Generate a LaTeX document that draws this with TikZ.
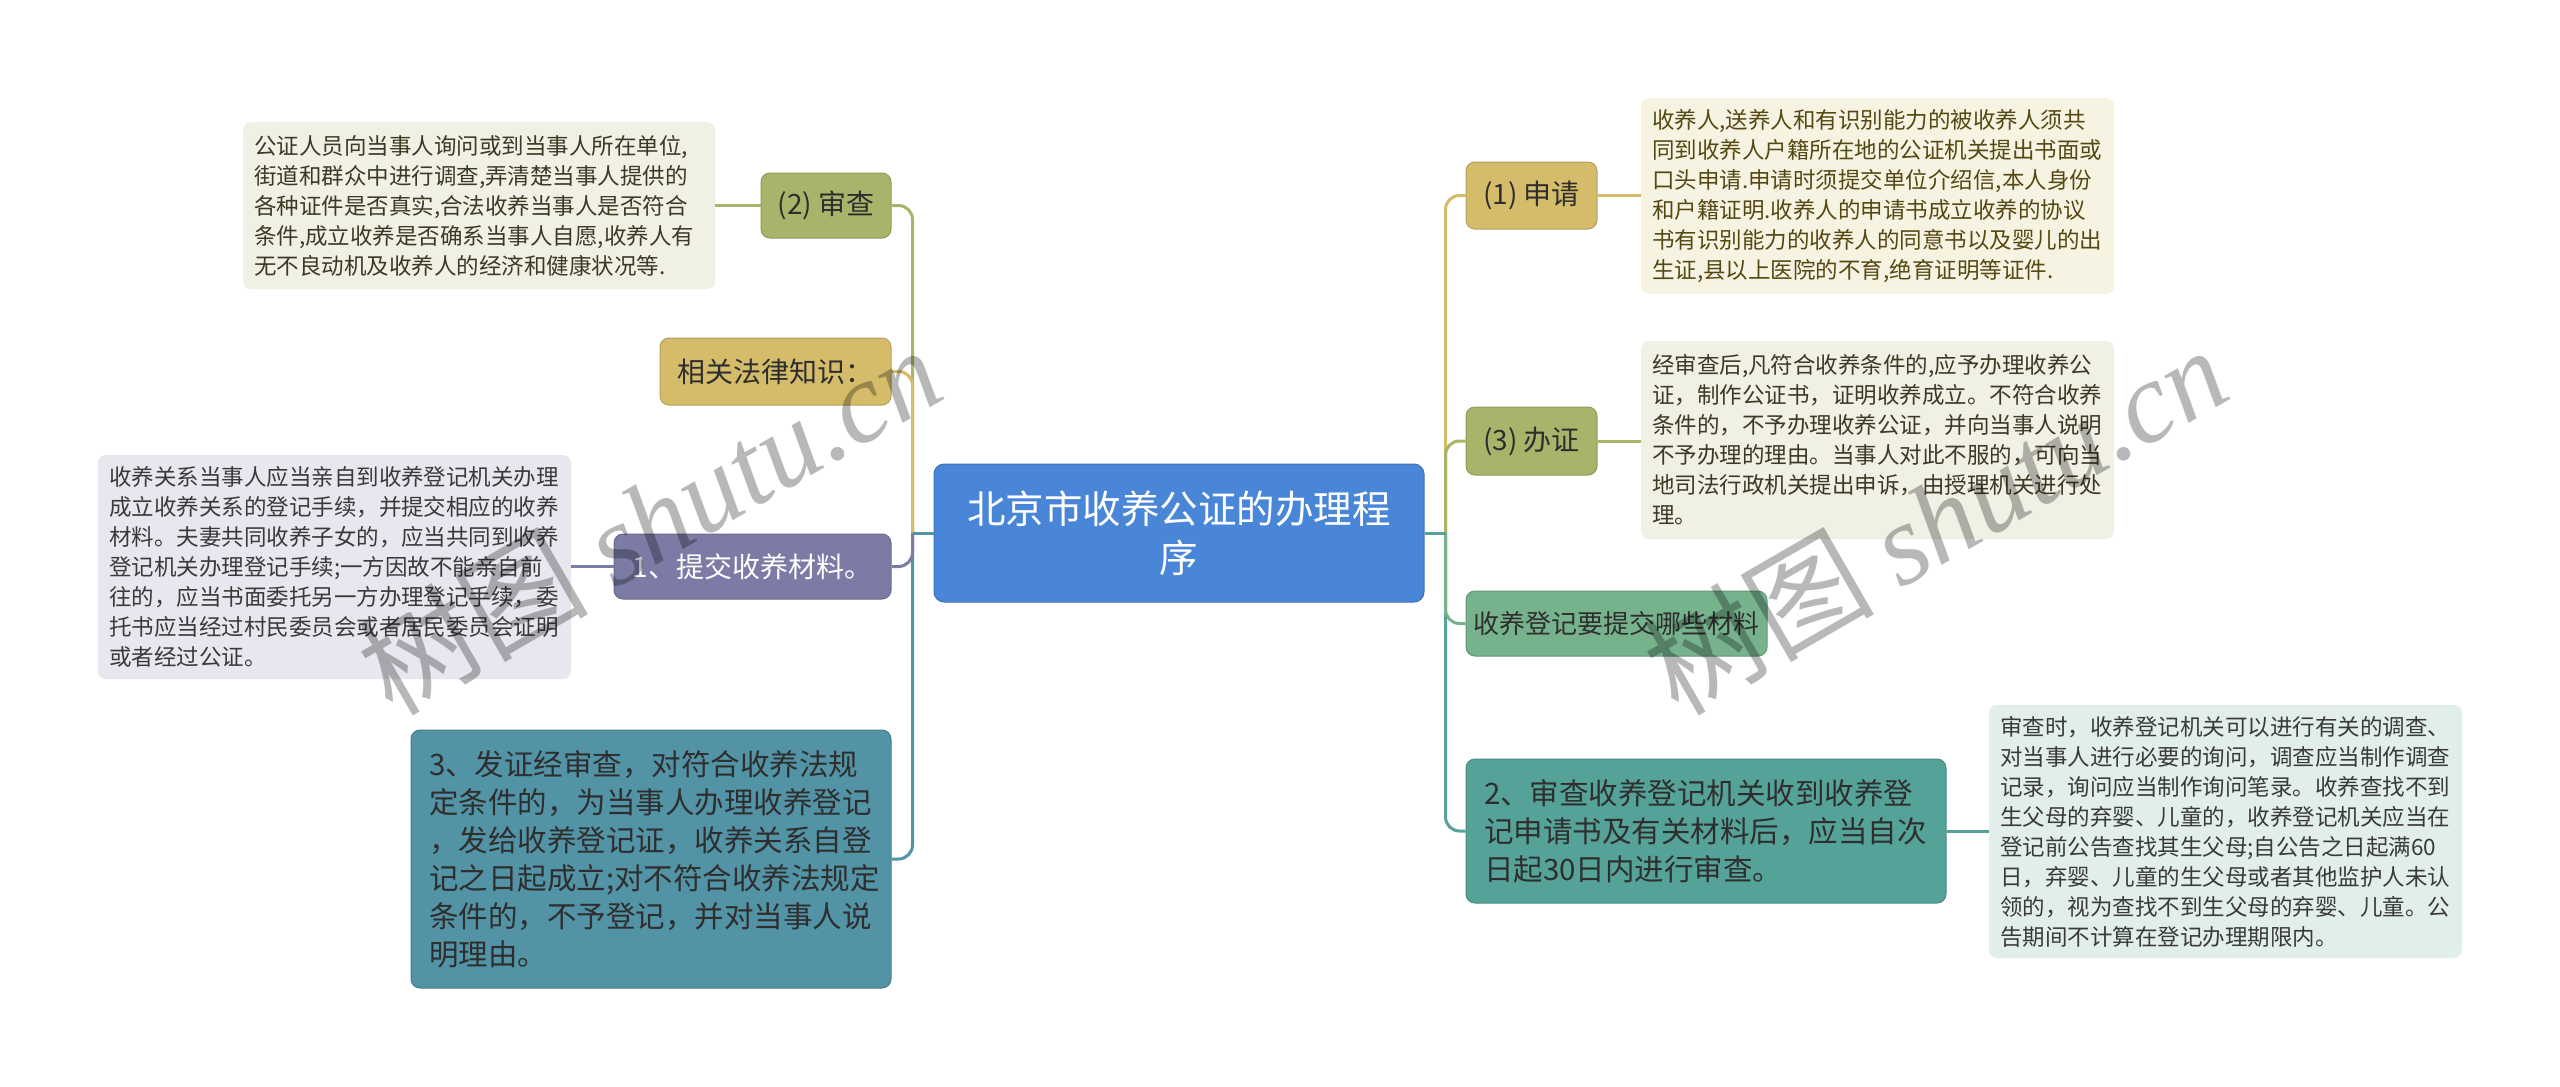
\documentclass[tikz,border=0pt]{standalone}
\usepackage{fontspec}
\setmainfont{Noto Sans CJK SC}
\newfontfamily\wmlatin{Liberation Serif}
\usetikzlibrary{calc}
\definecolor{cblue}{HTML}{4A86D8}
\definecolor{colive}{HTML}{A9B46A}
\definecolor{cgold}{HTML}{D4BC6A}
\definecolor{cpurple}{HTML}{7B7BA5}
\definecolor{cteal}{HTML}{5293A5}
\definecolor{cgreen}{HTML}{76B28C}
\definecolor{cteal2}{HTML}{55A298}
\definecolor{lolive}{HTML}{F0F0E5}
\definecolor{lgold}{HTML}{F6F3E2}
\definecolor{lpurple}{HTML}{E7E7EF}
\definecolor{lteal2}{HTML}{E1EEEC}
\definecolor{tdark}{HTML}{2E2E2E}
\definecolor{tleaf}{HTML}{3A3A3A}
\definecolor{tbrown}{HTML}{564812}
\definecolor{tolive}{HTML}{3C3A24}
\tikzset{
  rootbox/.style={fill=cblue, draw=cblue!85!black, line width=1pt, rounded corners=10pt,
    text=white, align=center, inner sep=0pt, font=\fontsize{38.5}{49}\selectfont},
  branch/.style={draw=#1!85!black, fill=#1, line width=1pt, rounded corners=9pt,
    inner sep=0pt, text=tdark, font=\fontsize{28}{34}\selectfont},
  mbranch/.style={branch=#1, inner xsep=18pt, align=left, font=\fontsize{29.5}{38}\selectfont},
  leaf/.style={fill=#1, rounded corners=8pt, inner xsep=11pt, inner ysep=0pt,
    align=left, text=tleaf, font=\fontsize{22.5}{30}\selectfont},
  conn/.style={line width=3pt, draw=#1},
  wm/.style={text=black, opacity=0.28, font=\fontsize{115}{120}\selectfont, inner sep=0pt}
}
\begin{document}
\begin{tikzpicture}[x=1pt,y=-1pt]
\useasboundingbox (0,0) rectangle (2560,1087);
\fill[white] (0,0) rectangle (2560,1087);

% root
\node[rootbox, minimum width=490pt, minimum height=138pt] (root) at (1179,533) {北京市收养公证的办理程\\序};

% left side
\node[branch=colive, minimum width=130pt, minimum height=65pt] (sc) at (826,205.5) {(2) 审查};
\node[leaf=lolive, text=tolive, text width=450pt, minimum height=167pt] (scl) at (479,205.5)
 {公证人员向当事人询问或到当事人所在单位,\\街道和群众中进行调查,弄清楚当事人提供的\\各种证件是否真实,合法收养当事人是否符合\\条件,成立收养是否确系当事人自愿,收养人有\\无不良动机及收养人的经济和健康状况等.};
\node[branch=cgold, minimum width=231pt, minimum height=67pt] (xg) at (775.5,371.5) {相关法律知识：};
\node[branch=cpurple, text=white, minimum width=277pt, minimum height=65pt] (tj) at (752.5,566.5) {1、提交收养材料。};
\node[leaf=lpurple, text width=451pt, minimum height=224pt] (tjl) at (334.5,567)
 {收养关系当事人应当亲自到收养登记机关办理\\成立收养关系的登记手续，并提交相应的收养\\材料。夫妻共同收养子女的，应当共同到收养\\登记机关办理登记手续;一方因故不能亲自前\\往的，应当书面委托另一方办理登记手续，委\\托书应当经过村民委员会或者居民委员会证明\\或者经过公证。};
\node[mbranch=cteal, text width=444pt, minimum height=258pt] (fz) at (651,859)
 {3、发证经审查，对符合收养法规\\定条件的，为当事人办理收养登记\\，发给收养登记证，收养关系自登\\记之日起成立;对不符合收养法规定\\条件的，不予登记，并对当事人说\\明理由。};

% right side
\node[branch=cgold, minimum width=131pt, minimum height=67pt] (sq) at (1531.5,195.5) {(1) 申请};
\node[leaf=lgold, text=tbrown, text width=451pt, minimum height=196pt] (sql) at (1877.5,196)
 {收养人,送养人和有识别能力的被收养人须共\\同到收养人户籍所在地的公证机关提出书面或\\口头申请.申请时须提交单位介绍信,本人身份\\和户籍证明.收养人的申请书成立收养的协议\\书有识别能力的收养人的同意书以及婴儿的出\\生证,县以上医院的不育,绝育证明等证件.};
\node[branch=colive, minimum width=131pt, minimum height=68pt] (bz) at (1531.5,441) {(3) 办证};
\node[leaf=lolive, text=tolive, text width=451pt, minimum height=198pt] (bzl) at (1877.5,440)
 {经审查后,凡符合收养条件的,应予办理收养公\\证，制作公证书，证明收养成立。不符合收养\\条件的，不予办理收养公证，并向当事人说明\\不予办理的理由。当事人对此不服的，可向当\\地司法行政机关提出申诉，由授理机关进行处\\理。};
\node[branch=cgreen, minimum width=301pt, minimum height=65pt, font=\fontsize{26}{34}\selectfont] (cl) at (1616.5,623.5) {收养登记要提交哪些材料};
\node[mbranch=cteal2, text width=444pt, minimum height=144pt] (s2) at (1706,831)
 {2、审查收养登记机关收到收养登\\记申请书及有关材料后，应当自次\\日起30日内进行审查。};
\node[leaf=lteal2, text width=451pt, minimum height=253pt] (s2l) at (2225.5,831.5)
 {审查时，收养登记机关可以进行有关的调查、\\对当事人进行必要的询问，调查应当制作调查\\记录，询问应当制作询问笔录。收养查找不到\\生父母的弃婴、儿童的，收养登记机关应当在\\登记前公告查找其生父母;自公告之日起满60\\日，弃婴、儿童的生父母或者其他监护人未认\\领的，视为查找不到生父母的弃婴、儿童。公\\告期间不计算在登记办理期限内。};

% connectors left
\coordinate (jl) at ($(root.west)+(-21pt,0pt)$);
\draw[conn=colive, rounded corners=14pt] (jl) |- (sc.east);
\draw[conn=cgold, rounded corners=14pt] (jl) |- (xg.east);
\draw[conn=cteal, rounded corners=14pt] (jl) |- (fz.east);
\draw[conn=cpurple, rounded corners=14pt] (jl) |- (tj.east);
\draw[conn=cteal] (root.west) -- (jl);
% connectors right
\coordinate (jr) at ($(root.east)+(21pt,0pt)$);
\draw[conn=cgold, rounded corners=14pt] (jr) |- (sq.west);
\draw[conn=colive, rounded corners=14pt] (jr) |- (bz.west);
\draw[conn=cteal2, rounded corners=14pt] (jr) |- (s2.west);
\draw[conn=cgreen, rounded corners=14pt] (jr) |- (cl.west);
\draw[conn=cteal2] (root.east) -- (jr);
% leaf connectors
\draw[conn=colive] (sc.west) -- (sc.west -| scl.east);
\draw[conn=cpurple] (tj.west) -- (tj.west -| tjl.east);
\draw[conn=cgold] (sq.east) -- (sq.east -| sql.west);
\draw[conn=colive] (bz.east) -- (bz.east -| bzl.west);
\draw[conn=cteal2] (s2.east) -- (s2.east -| s2l.west);

% watermarks
\node[wm, rotate=30] (wm1) at (649,519) {树图 {\wmlatin\itshape shutu.cn}};
\node[wm, rotate=30] (wm2) at (1935,519) {树图 {\wmlatin\itshape shutu.cn}};
\end{tikzpicture}
\end{document}
